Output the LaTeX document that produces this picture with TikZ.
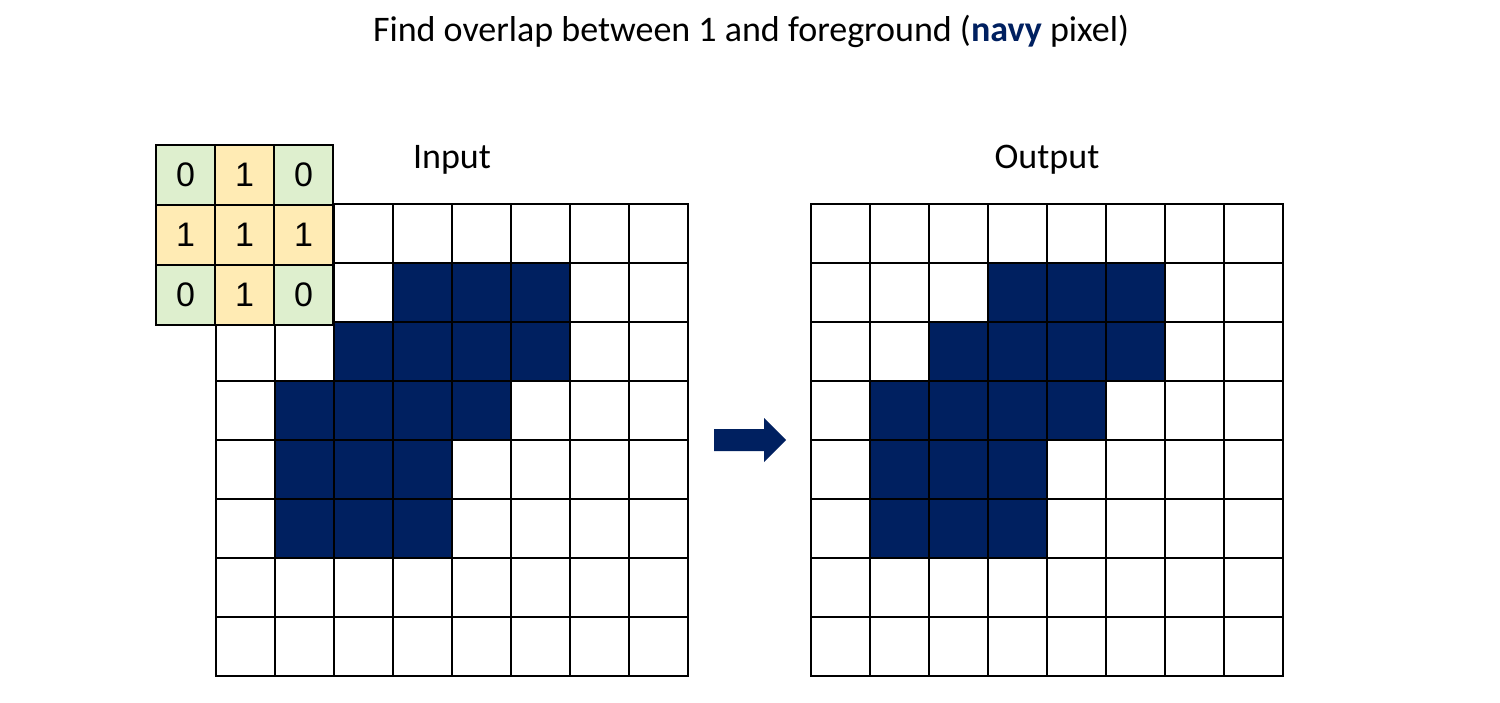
\documentclass[tikz,border=0pt]{standalone}
\usepackage{fontspec}
\setmainfont{Carlito}
\newfontfamily\arialf{Liberation Sans}
\definecolor{navy}{HTML}{002060}
\definecolor{kgreen}{HTML}{DEEFCE}
\definecolor{kyellow}{HTML}{FFEBB4}
\begin{document}
\begin{tikzpicture}[x=1pt,y=-1pt,
  gridline/.style={line width=2pt,black,line cap=rect},
  navycell/.style={fill=navy},
  kcell/.style={draw=black,line width=2pt,minimum width=59pt,minimum height=60pt,inner sep=0pt,font=\arialf\fontsize{34}{38}\selectfont},
  label/.style={font=\fontsize{36}{42}\selectfont,anchor=base}]
\useasboundingbox (0,0) rectangle (1500,703);
\fill[white] (0,0) rectangle (1500,703);
% title
\node[label] (title) at (751,42) {Find overlap between 1 and foreground ({\color{navy}\bfseries navy} pixel)};
\node[label] (inlabel) at (452,169) {Input};
\node[label] (outlabel) at (1047,169) {Output};
% navy pixels
\foreach \r/\c in {1/3,1/4,1/5,2/2,2/3,2/4,2/5,3/1,3/2,3/3,3/4,4/1,4/2,4/3,5/1,5/2,5/3}{
  \fill[navycell] (216+\c*59,204+\r*59) rectangle ++(59,59);
  \fill[navycell] (811+\c*59,204+\r*59) rectangle ++(59,59);
}
% grids
\foreach \i in {0,...,8}{
  \draw[gridline] (216+\i*59,204) -- (216+\i*59,676);
  \draw[gridline] (216,204+\i*59) -- (688,204+\i*59);
  \draw[gridline] (811+\i*59,204) -- (811+\i*59,676);
  \draw[gridline] (811,204+\i*59) -- (1283,204+\i*59);
}
% kernel
\foreach \r/\c/\v/\col in {0/0/0/kgreen,0/1/1/kyellow,0/2/0/kgreen,
                            1/0/1/kyellow,1/1/1/kyellow,1/2/1/kyellow,
                            2/0/0/kgreen,2/1/1/kyellow,2/2/0/kgreen}{
  \node[kcell,fill=\col] (k\r\c) at (185.5+\c*59,175+\r*60) {\v};
}
% arrow
\fill[navy] (714,429) -- (764,429) -- (764,418) -- (786,440) -- (764,462) -- (764,451) -- (714,451) -- cycle;
\end{tikzpicture}
\end{document}
